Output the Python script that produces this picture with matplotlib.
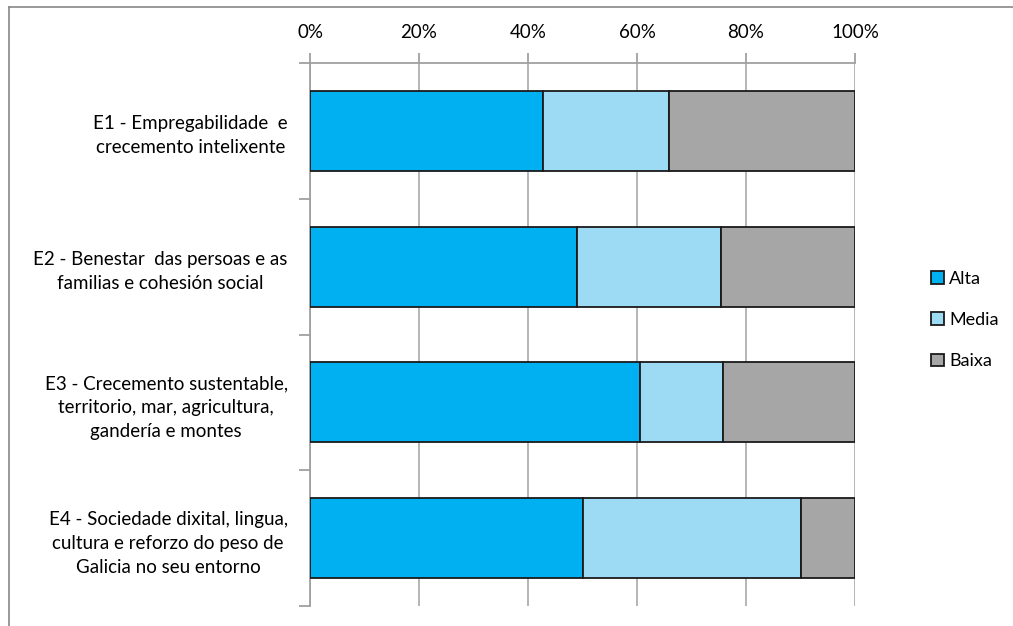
import numpy as np
import matplotlib.pyplot as plt
from matplotlib.lines import Line2D

categories = ['E1 - Empregabilidade  e\ncrecemento intelixente',
              'E2 - Benestar  das persoas e as\nfamilias e cohesión social',
              'E3 - Crecemento sustentable,\nterritorio, mar, agricultura,\ngandería e montes',
              'E4 - Sociedade dixital, lingua,\ncultura e reforzo do peso de\nGalicia no seu entorno']
alta = [42.7, 49.0, 60.6, 50.0]
media = [23.1, 26.5, 15.2, 40.0]
baixa = [34.2, 24.5, 24.2, 10.0]
series = ['Alta', 'Media', 'Baixa']
colors = ['#00B0F0', '#9DDAF3', '#A6A6A6']
xticks = [0, 20, 40, 60, 80, 100]

plt.rcParams['font.family'] = ['Lato', 'DejaVu Sans']

fig = plt.figure(figsize=(10.13, 6.26), dpi=100)
ax = fig.add_axes([310/1013, 1 - 606/626, 545/1013, 543/626])

y = np.arange(len(categories))
left = np.zeros(len(categories))
for name, vals, c in zip(series, [alta, media, baixa], colors):
    ax.barh(y, vals, left=left, height=0.59, color=c, edgecolor='#1a1a1a',
            linewidth=1.3, label=name, zorder=3)
    left += np.array(vals)

ax.set_xlim(0, 100)
ax.set_ylim(len(categories) - 0.5, -0.5)
ax.xaxis.tick_top()
ax.set_xticks(xticks)
ax.set_xticklabels([f'{t}%' for t in xticks], fontsize=13.5)
ax.tick_params(axis='x', length=7, width=1.3, color='#a0a0a0', pad=9)
ax.grid(axis='x', color='#b0b0b0', linewidth=1.3, zorder=0)

ax.set_yticks(y)
ax.set_yticklabels(categories, fontsize=13.5, multialignment='center', linespacing=1.5)
ax.set_yticks(np.arange(-0.5, len(categories)), minor=True)
ax.tick_params(axis='y', which='major', length=0, pad=16)
ax.tick_params(axis='y', which='minor', length=8, width=1.3, color='#a0a0a0')

for s in ['right', 'bottom']:
    ax.spines[s].set_visible(False)
for s in ['top', 'left']:
    ax.spines[s].set_color('#a0a0a0')
    ax.spines[s].set_linewidth(1.3)

fig.legend(loc='center left', bbox_to_anchor=(915/1013, 1 - 320/626), frameon=False,
           fontsize=13, handlelength=0.7, handleheight=0.7, handletextpad=0.3,
           labelspacing=1.4)

# outer chart border
fig.add_artist(Line2D([9/1013, 9/1013], [0, 1 - 7/626], color='#888888', linewidth=1.2))
fig.add_artist(Line2D([9/1013, 1], [1 - 7/626, 1 - 7/626], color='#888888', linewidth=1.2))

fig.savefig('out.png', dpi=100)
